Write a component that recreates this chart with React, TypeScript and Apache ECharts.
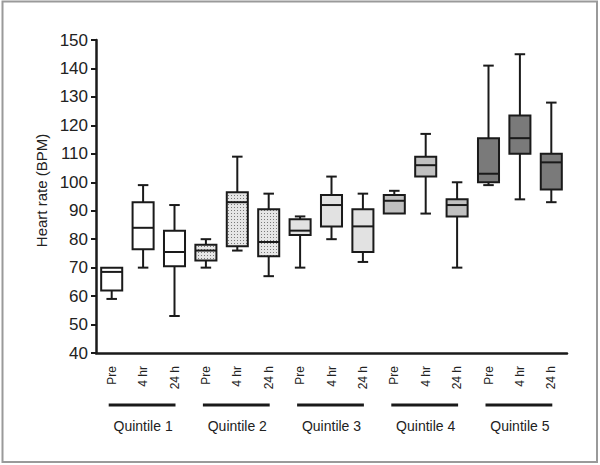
import { useEffect, useRef } from "react";
import * as echarts from "echarts";

const timepoints = ["Pre", "4 hr", "24 h"];
const groups = ["Quintile 1", "Quintile 2", "Quintile 3", "Quintile 4", "Quintile 5"];
const categories = groups.flatMap(() => timepoints);

const mins = [59, 70, 53, 70, 76, 67, 70, 80, 72, 89, 89, 70, 99, 94, 93];
const q1s = [62, 76.5, 70.5, 72.5, 77.5, 74, 81.5, 84.5, 75.5, 89, 102, 88, 100, 110, 97.5];
const medians = [68.5, 84, 75.5, 76, 93, 79, 83, 92, 84.5, 93.5, 106, 92, 103, 115.5, 107];
const q3s = [70, 93, 83, 78, 96.5, 90.5, 87, 95.5, 90.5, 95.5, 109, 94, 115.5, 123.5, 110];
const maxs = [70, 99, 92, 80, 109, 96, 88, 102, 96, 97, 117, 100, 141, 145, 128];

const yTicks = [40, 50, 60, 70, 80, 90, 100, 110, 120, 130, 140, 150];

const stipple =
  "data:image/svg+xml;charset=utf-8," +
  encodeURIComponent(
    '<svg xmlns="http://www.w3.org/2000/svg" width="3" height="3"><rect width="3" height="3" fill="#e6e6e6"/><rect width="1" height="1" fill="#7a7a7a"/></svg>'
  );

const groupFills: any[] = [
  "#ffffff",
  { image: stipple, repeat: "repeat", imageWidth: 3, imageHeight: 3 },
  "#e2e2e2",
  "#c0c0c0",
  "#7a7a7a",
];

const INK = "#1a1a1a";
const FONT = "Liberation Sans, Arial, sans-serif";

export default function App() {
  const ref = useRef<HTMLDivElement>(null);

  useEffect(() => {
    if (!ref.current) return;
    const chart = echarts.init(ref.current, null, { renderer: "svg" });
    const data = categories.map((_, i) => [i, mins[i], q1s[i], medians[i], q3s[i], maxs[i]]);

    chart.setOption({
      animation: false,
      backgroundColor: "#ffffff",
      grid: { left: 96, right: 33, top: 40, bottom: 112, outerBoundsMode: "none", containLabel: false },
      xAxis: {
        type: "category",
        data: categories,
        boundaryGap: true,
        axisLine: { lineStyle: { color: INK, width: 2.5 } },
        axisTick: { alignWithLabel: true, length: 5, lineStyle: { color: INK, width: 2 } },
        axisLabel: {
          rotate: 90,
          margin: 13,
          fontSize: 12,
          color: "#222",
          fontFamily: FONT,
          interval: 0,
        },
        splitLine: { show: false },
      },
      yAxis: {
        type: "value",
        min: yTicks[0],
        max: yTicks[yTicks.length - 1],
        interval: 10,
        name: "Heart rate (BPM)",
        nameLocation: "middle",
        nameGap: 46,
        nameTextStyle: { fontSize: 15, color: "#222", fontFamily: FONT, padding: [0, 0, 0, 12] },
        axisLine: { show: true, lineStyle: { color: INK, width: 2.5 } },
        axisTick: { show: true, length: 5, lineStyle: { color: INK, width: 2 } },
        axisLabel: { margin: 8, fontSize: 17, color: "#222", fontFamily: FONT },
        splitLine: { show: false },
      },
      series: [
        {
          type: "custom",
          data,
          encode: { x: 0, y: [1, 2, 3, 4, 5] },
          renderItem: (params: any, api: any) => {
            const i = api.value(0);
            const g = Math.floor(i / 3);
            const band = api.size([1, 0])[0];
            const bw = band * 0.67;
            const cw = bw * 0.5;
            const pMin = api.coord([i, api.value(1)]);
            const pQ1 = api.coord([i, api.value(2)]);
            const pMed = api.coord([i, api.value(3)]);
            const pQ3 = api.coord([i, api.value(4)]);
            const pMax = api.coord([i, api.value(5)]);
            const cx = pMed[0];
            const ls = { stroke: INK, lineWidth: 2, fill: null };
            const children: any[] = [];
            if (api.value(5) > api.value(4)) {
              children.push({ type: "line", shape: { x1: cx, y1: pMax[1], x2: cx, y2: pQ3[1] }, style: ls });
              children.push({ type: "line", shape: { x1: cx - cw / 2, y1: pMax[1], x2: cx + cw / 2, y2: pMax[1] }, style: ls });
            }
            if (api.value(1) < api.value(2)) {
              children.push({ type: "line", shape: { x1: cx, y1: pQ1[1], x2: cx, y2: pMin[1] }, style: ls });
              children.push({ type: "line", shape: { x1: cx - cw / 2, y1: pMin[1], x2: cx + cw / 2, y2: pMin[1] }, style: ls });
            }
            children.push({
              type: "rect",
              shape: { x: cx - bw / 2, y: pQ3[1], width: bw, height: pQ1[1] - pQ3[1] },
              style: { fill: groupFills[g], stroke: INK, lineWidth: 2 },
            });
            children.push({
              type: "line",
              shape: { x1: cx - bw / 2, y1: pMed[1], x2: cx + bw / 2, y2: pMed[1] },
              style: ls,
            });
            return { type: "group", children };
          },
        },
      ],
    });

    const graphics: any[] = [
      {
        type: "rect",
        shape: { x: 2.5, y: 1.5, width: 594.5, height: 460.5 },
        style: { fill: null, stroke: "#9a9a9a", lineWidth: 2 },
        silent: true,
      },
    ];
    groups.forEach((name, g) => {
      const xs = chart.convertToPixel({ xAxisIndex: 0 }, g * 3) as number;
      const xe = chart.convertToPixel({ xAxisIndex: 0 }, g * 3 + 2) as number;
      const xm = chart.convertToPixel({ xAxisIndex: 0 }, g * 3 + 1) as number;
      graphics.push({
        type: "line",
        shape: { x1: xs - 3, y1: 405, x2: xe + 1, y2: 405 },
        style: { stroke: INK, lineWidth: 3 },
      });
      graphics.push({
        type: "text",
        x: xm,
        y: 426,
        style: {
          text: name,
          fontSize: 14,
          fontFamily: FONT,
          fill: "#222",
          textAlign: "center",
          textVerticalAlign: "middle",
        },
      });
    });
    chart.setOption({ graphic: graphics });

    return () => chart.dispose();
  }, []);

  return (
    <div
      ref={ref}
      style={{ position: "absolute", left: 0, top: 0, width: 600, height: 465, background: "#fff" }}
    />
  );
}
